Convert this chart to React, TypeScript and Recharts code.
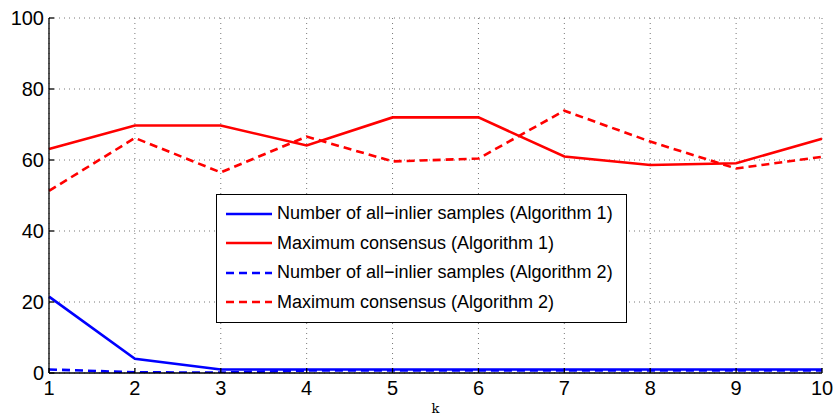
import React from "react";
import { LineChart, Line, XAxis, YAxis, CartesianGrid, Legend } from "recharts";

const K = [1, 2, 3, 4, 5, 6, 7, 8, 9, 10];
const allInlier1 = [21.5, 4, 1, 1, 1, 1, 1, 1, 1, 1];
const consensus1 = [63.1, 69.7, 69.7, 64.1, 72, 72, 61, 58.6, 59.1, 66];
const allInlier2 = [1, 0.2, 0.1, 0.7, 0.7, 0.7, 0.7, 0.7, 0.7, 0.7];
const consensus2 = [51.3, 66.2, 56.5, 66.6, 59.6, 60.4, 73.9, 65.2, 57.6, 60.9];
const yTicks = [0, 20, 40, 60, 80, 100];

const series = [
  { key: "a1", name: "Number of all\u2212inlier samples (Algorithm 1)", color: "#0000ff", dash: undefined },
  { key: "c1", name: "Maximum consensus (Algorithm 1)", color: "#ff0000", dash: undefined },
  { key: "a2", name: "Number of all\u2212inlier samples (Algorithm 2)", color: "#0000ff", dash: "8 5" },
  { key: "c2", name: "Maximum consensus (Algorithm 2)", color: "#ff0000", dash: "8 5" },
];

const data = K.map((k, i) => ({
  k,
  a1: allInlier1[i],
  c1: consensus1[i],
  a2: allInlier2[i],
  c2: consensus2[i],
}));

const font = "'Liberation Sans', Arial, sans-serif";

function LegendBox() {
  return (
    <div
      style={{
        border: "1.5px solid #000",
        background: "#fff",
        width: 409,
        padding: "4px 0 5px 0",
        fontFamily: font,
        fontSize: 18,
        color: "#000",
      }}
    >
      {series.map((s) => (
        <div key={s.key} style={{ display: "flex", alignItems: "center", height: 29.5 }}>
          <svg width={60} height={10} style={{ flex: "none" }}>
            <line x1={9} x2={55} y1={5} y2={5} stroke={s.color} strokeWidth={2.5} strokeDasharray={s.dash} />
          </svg>
          <span>{s.name}</span>
        </div>
      ))}
    </div>
  );
}

export default function App() {
  const tickStyle = { fontFamily: font, fontSize: 20, fill: "#000" };
  return (
    <div style={{ position: "absolute", left: 0, top: 0, background: "#fff" }}>
      <LineChart width={836} height={417} data={data} margin={{ top: 18, right: 14, bottom: 14, left: 0 }}>
        <CartesianGrid stroke="#777" strokeDasharray="1 4" />
        <XAxis
          dataKey="k"
          type="number"
          domain={[1, 10]}
          ticks={K}
          height={30}
          tickSize={-5}
          tickMargin={13}
          tick={tickStyle}
          stroke="#000"
          strokeWidth={1.3}
          label={{ value: "k", position: "insideBottom", offset: -10, style: { fontFamily: "'DejaVu Serif', serif", fontSize: 13, fill: "#000" } }}
        />
        <XAxis xAxisId="top" orientation="top" dataKey="k" type="number" domain={[1, 10]} ticks={K} height={0} tickSize={-5} tick={false} stroke="#000" strokeWidth={1.3} />
        <YAxis
          domain={[0, 100]}
          ticks={yTicks}
          width={49}
          tickSize={-5}
          tickMargin={10}
          tick={tickStyle}
          stroke="#000"
          strokeWidth={1.3}
          allowDataOverflow
        />
        <YAxis yAxisId="right" orientation="right" domain={[0, 100]} ticks={yTicks} width={0} tickSize={-5} tick={false} stroke="#000" strokeWidth={1.3} />
        {series.map((s) => (
          <Line
            key={s.key}
            dataKey={s.key}
            name={s.name}
            stroke={s.color}
            strokeWidth={2.6}
            strokeDasharray={s.dash}
            dot={false}
            isAnimationActive={false}
          />
        ))}
        <Legend
          layout="vertical"
          align="center"
          verticalAlign="middle"
          content={() => <LegendBox />}
          wrapperStyle={{ left: 216, top: 194, width: 412 }}
        />
      </LineChart>
    </div>
  );
}
